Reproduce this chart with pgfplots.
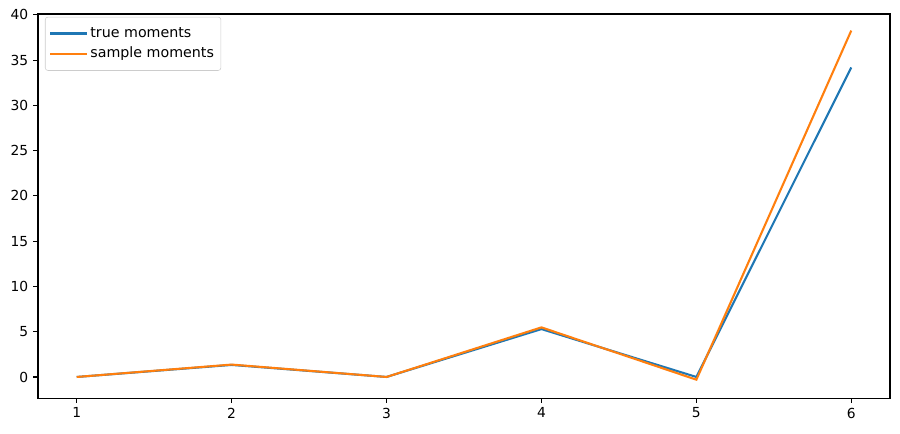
\documentclass[border=0pt]{standalone}
\usepackage{fontspec}
\setmainfont{DejaVu Sans}
\usepackage{pgfplots}
\pgfplotsset{compat=1.18}
\definecolor{tabblue}{HTML}{1F77B4}
\definecolor{taborange}{HTML}{FF7F0E}
\begin{document}
\begin{tikzpicture}
\begin{axis}[
scale only axis,
width=613.4bp, height=276.5bp,
xmin=0.75, xmax=6.25,
ymin=-2.33, ymax=40.1,
xtick={1,2,3,4,5,6},
ytick={0,5,10,15,20,25,30,35,40},
tick pos=left,
tick align=outside,
major tick length=3.5bp,
every tick/.style={black, line width=0.8bp},
axis line style={line width=0.8bp},
ticklabel style={font=\fontsize{10}{12}\selectfont},
/pgf/number format/assume math mode=true,
legend cell align=left,
legend style={at={(0,1)}, anchor=north west, xshift=5bp, yshift=-2bp,
  draw=black!20, rounded corners=2pt, font=\fontsize{10.3}{12}\selectfont,
  inner xsep=3bp, inner ysep=5.5bp, row sep=1.5bp},
legend image code/.code={\path (-1bp,0bp) -- (25bp,0bp);\draw[#1] (0bp,0bp) -- (20bp,0bp);},
]
\addplot[tabblue, line width=1.5bp]
coordinates {(1,0)(2,1.33)(3,0)(4,5.29)(5,0)(6,34.2)};
\addlegendentry{true moments}
\addplot[taborange, line width=1.5bp]
coordinates {(1,0)(2,1.37)(3,0)(4,5.48)(5,-0.3)(6,38.27)};
\addlegendentry{sample moments}
\end{axis}
\path ([xshift=-27.36bp,yshift=-25.2bp]current axis.south west) rectangle ([xshift=7.2bp,yshift=10.08bp]current axis.north east);
\end{tikzpicture}
\end{document}
